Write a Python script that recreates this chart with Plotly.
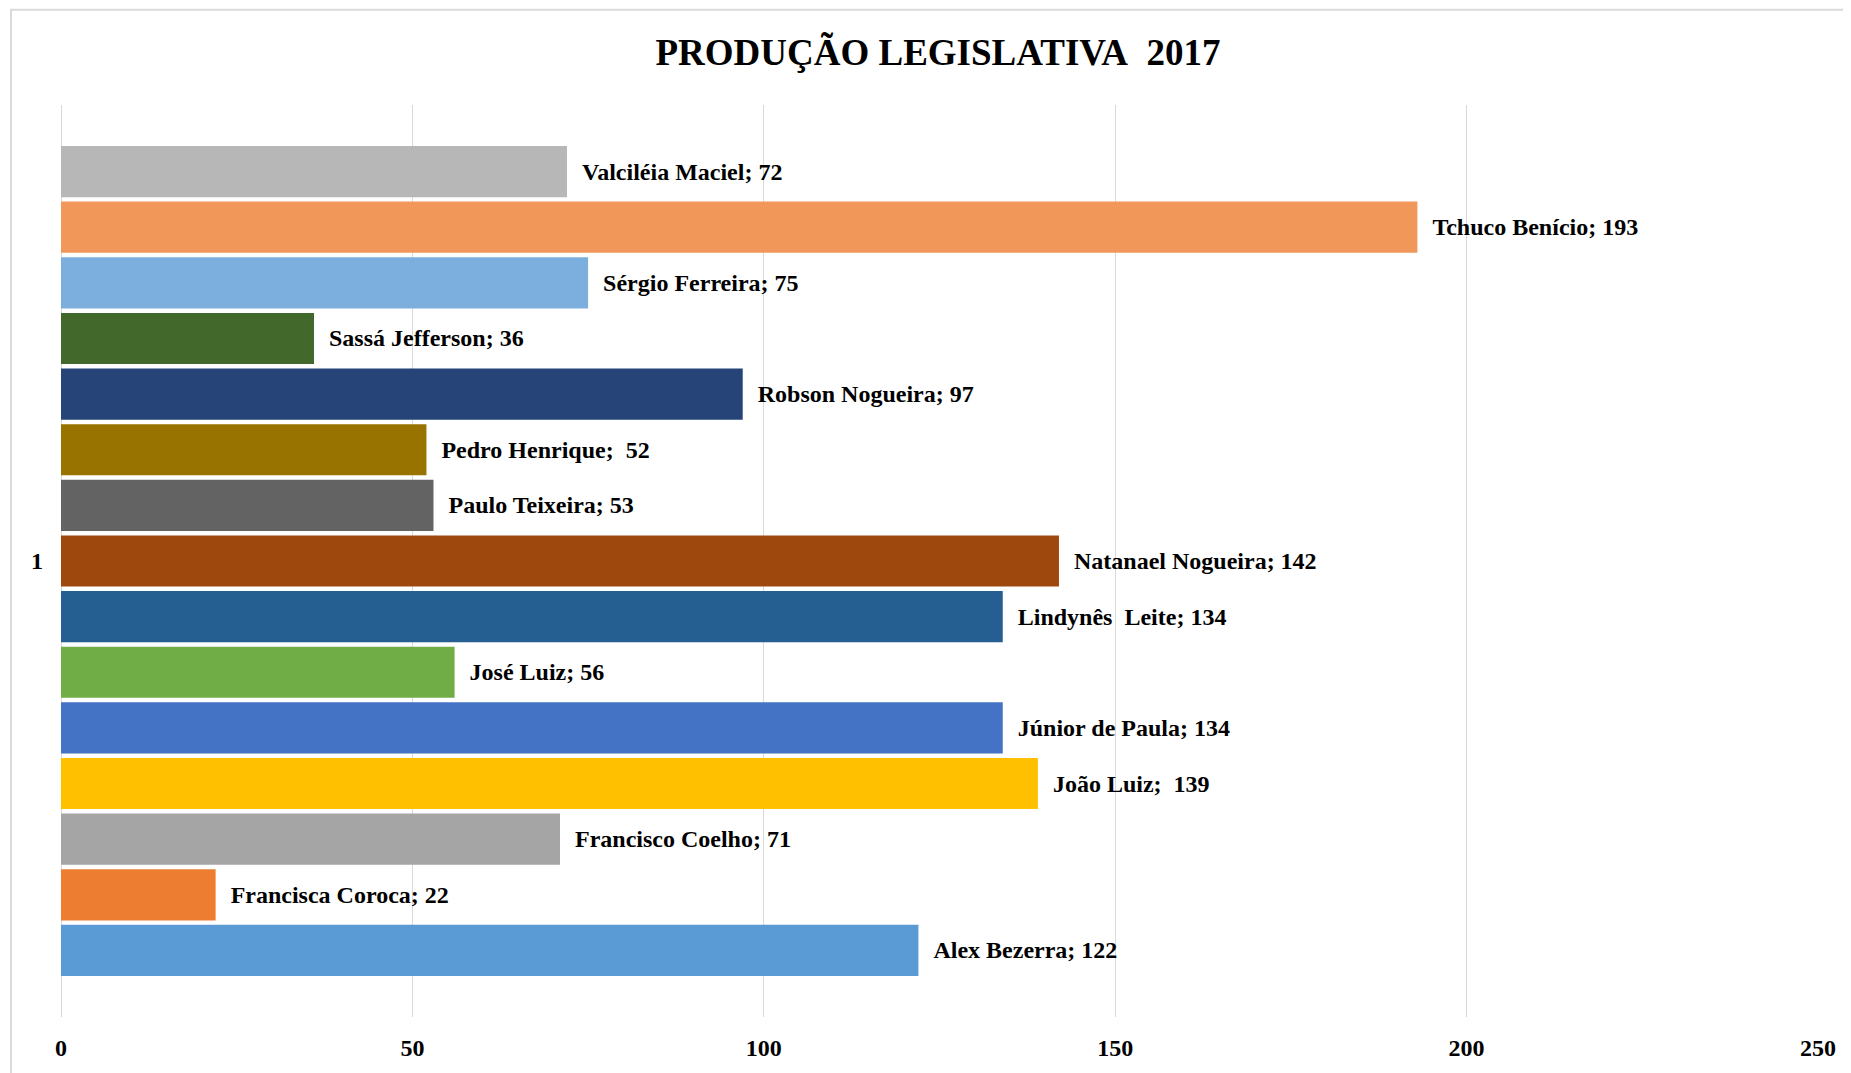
import plotly.graph_objects as go

# ── Data (bottom to top, as in the Excel chart) ────────────────────
names = ['Alex Bezerra', 'Francisca Coroca', 'Francisco Coelho', 'João Luiz',
         'Júnior de Paula', 'José Luiz', 'Lindynês\u00a0 Leite', 'Natanael Nogueira',
         'Paulo Teixeira', 'Pedro Henrique', 'Robson Nogueira', 'Sassá Jefferson',
         'Sérgio Ferreira', 'Tchuco Benício', 'Valciléia Maciel']
values = [122, 22, 71, 139, 134, 56, 134, 142, 53, 52, 97, 36, 75, 193, 72]
seps = ['; ', '; ', '; ', ';\u00a0 ', '; ', '; ', '; ', '; ', '; ', ';\u00a0 ', '; ', '; ', '; ', '; ', '; ']
colors = ['#5B9BD5', '#ED7D31', '#A5A5A5', '#FFC000', '#4472C4', '#70AD47',
          '#255E91', '#9E480E', '#636363', '#997300', '#264478', '#43682B',
          '#7CAFDD', '#F1975A', '#B7B7B7']
category = ['1']

FONT = 'Liberation Serif'

fig = go.Figure()
for name, val, sep, col in zip(names, values, seps, colors):
    fig.add_trace(go.Bar(
        x=[val], y=category, orientation='h', name=name,
        marker_color=col, marker_line_width=0,
        text=['\u00a0\u00a0' + name + sep + str(val)],
        textposition='outside', cliponaxis=False, constraintext='none',
        textfont=dict(family=FONT, size=24, color='#000000', weight='bold'),
        hovertemplate=name + '<br>%{x}<extra></extra>',
    ))

# page body adds an 8px margin, so the figure is drawn 8px smaller
fig.update_layout(
    width=1843, height=1065,
    barmode='group', bargap=0.085, bargroupgap=0.08,
    showlegend=False,
    paper_bgcolor='white', plot_bgcolor='white',
    margin=dict(l=53, r=33, t=97, b=48),
    font=dict(family=FONT, color='#000000'),
    title=dict(text='<b>PRODUÇÃO LEGISLATIVA\u00a0 2017</b>', x=0.5046, xanchor='center',
               y=1 - 44 / 1065, yanchor='middle', yref='container',
               font=dict(family=FONT, size=37, color='#000000')),
    xaxis=dict(range=[0, 250], dtick=50, showgrid=True, gridcolor='#D9D9D9', gridwidth=1,
               zeroline=True, zerolinecolor='#D9D9D9', zerolinewidth=1, showline=False,
               tickfont=dict(family=FONT, size=24, color='#000000'),
               tickprefix='<b>', ticksuffix='</b>', ticklabelstandoff=14),
    yaxis=dict(type='category', showgrid=False, zeroline=False, showline=False,
               tickfont=dict(family=FONT, size=24, color='#000000'),
               tickprefix='<b>', ticksuffix='</b>', ticklabelstandoff=17),
    shapes=[dict(type='rect', xref='paper', yref='paper',
                 x0=(3 - 53) / 1757, x1=1.1, y0=-0.2, y1=(920 + 96) / 920,
                 line=dict(color='#D9D9D9', width=2), layer='below')],
)

fig.write_html('out.html')
